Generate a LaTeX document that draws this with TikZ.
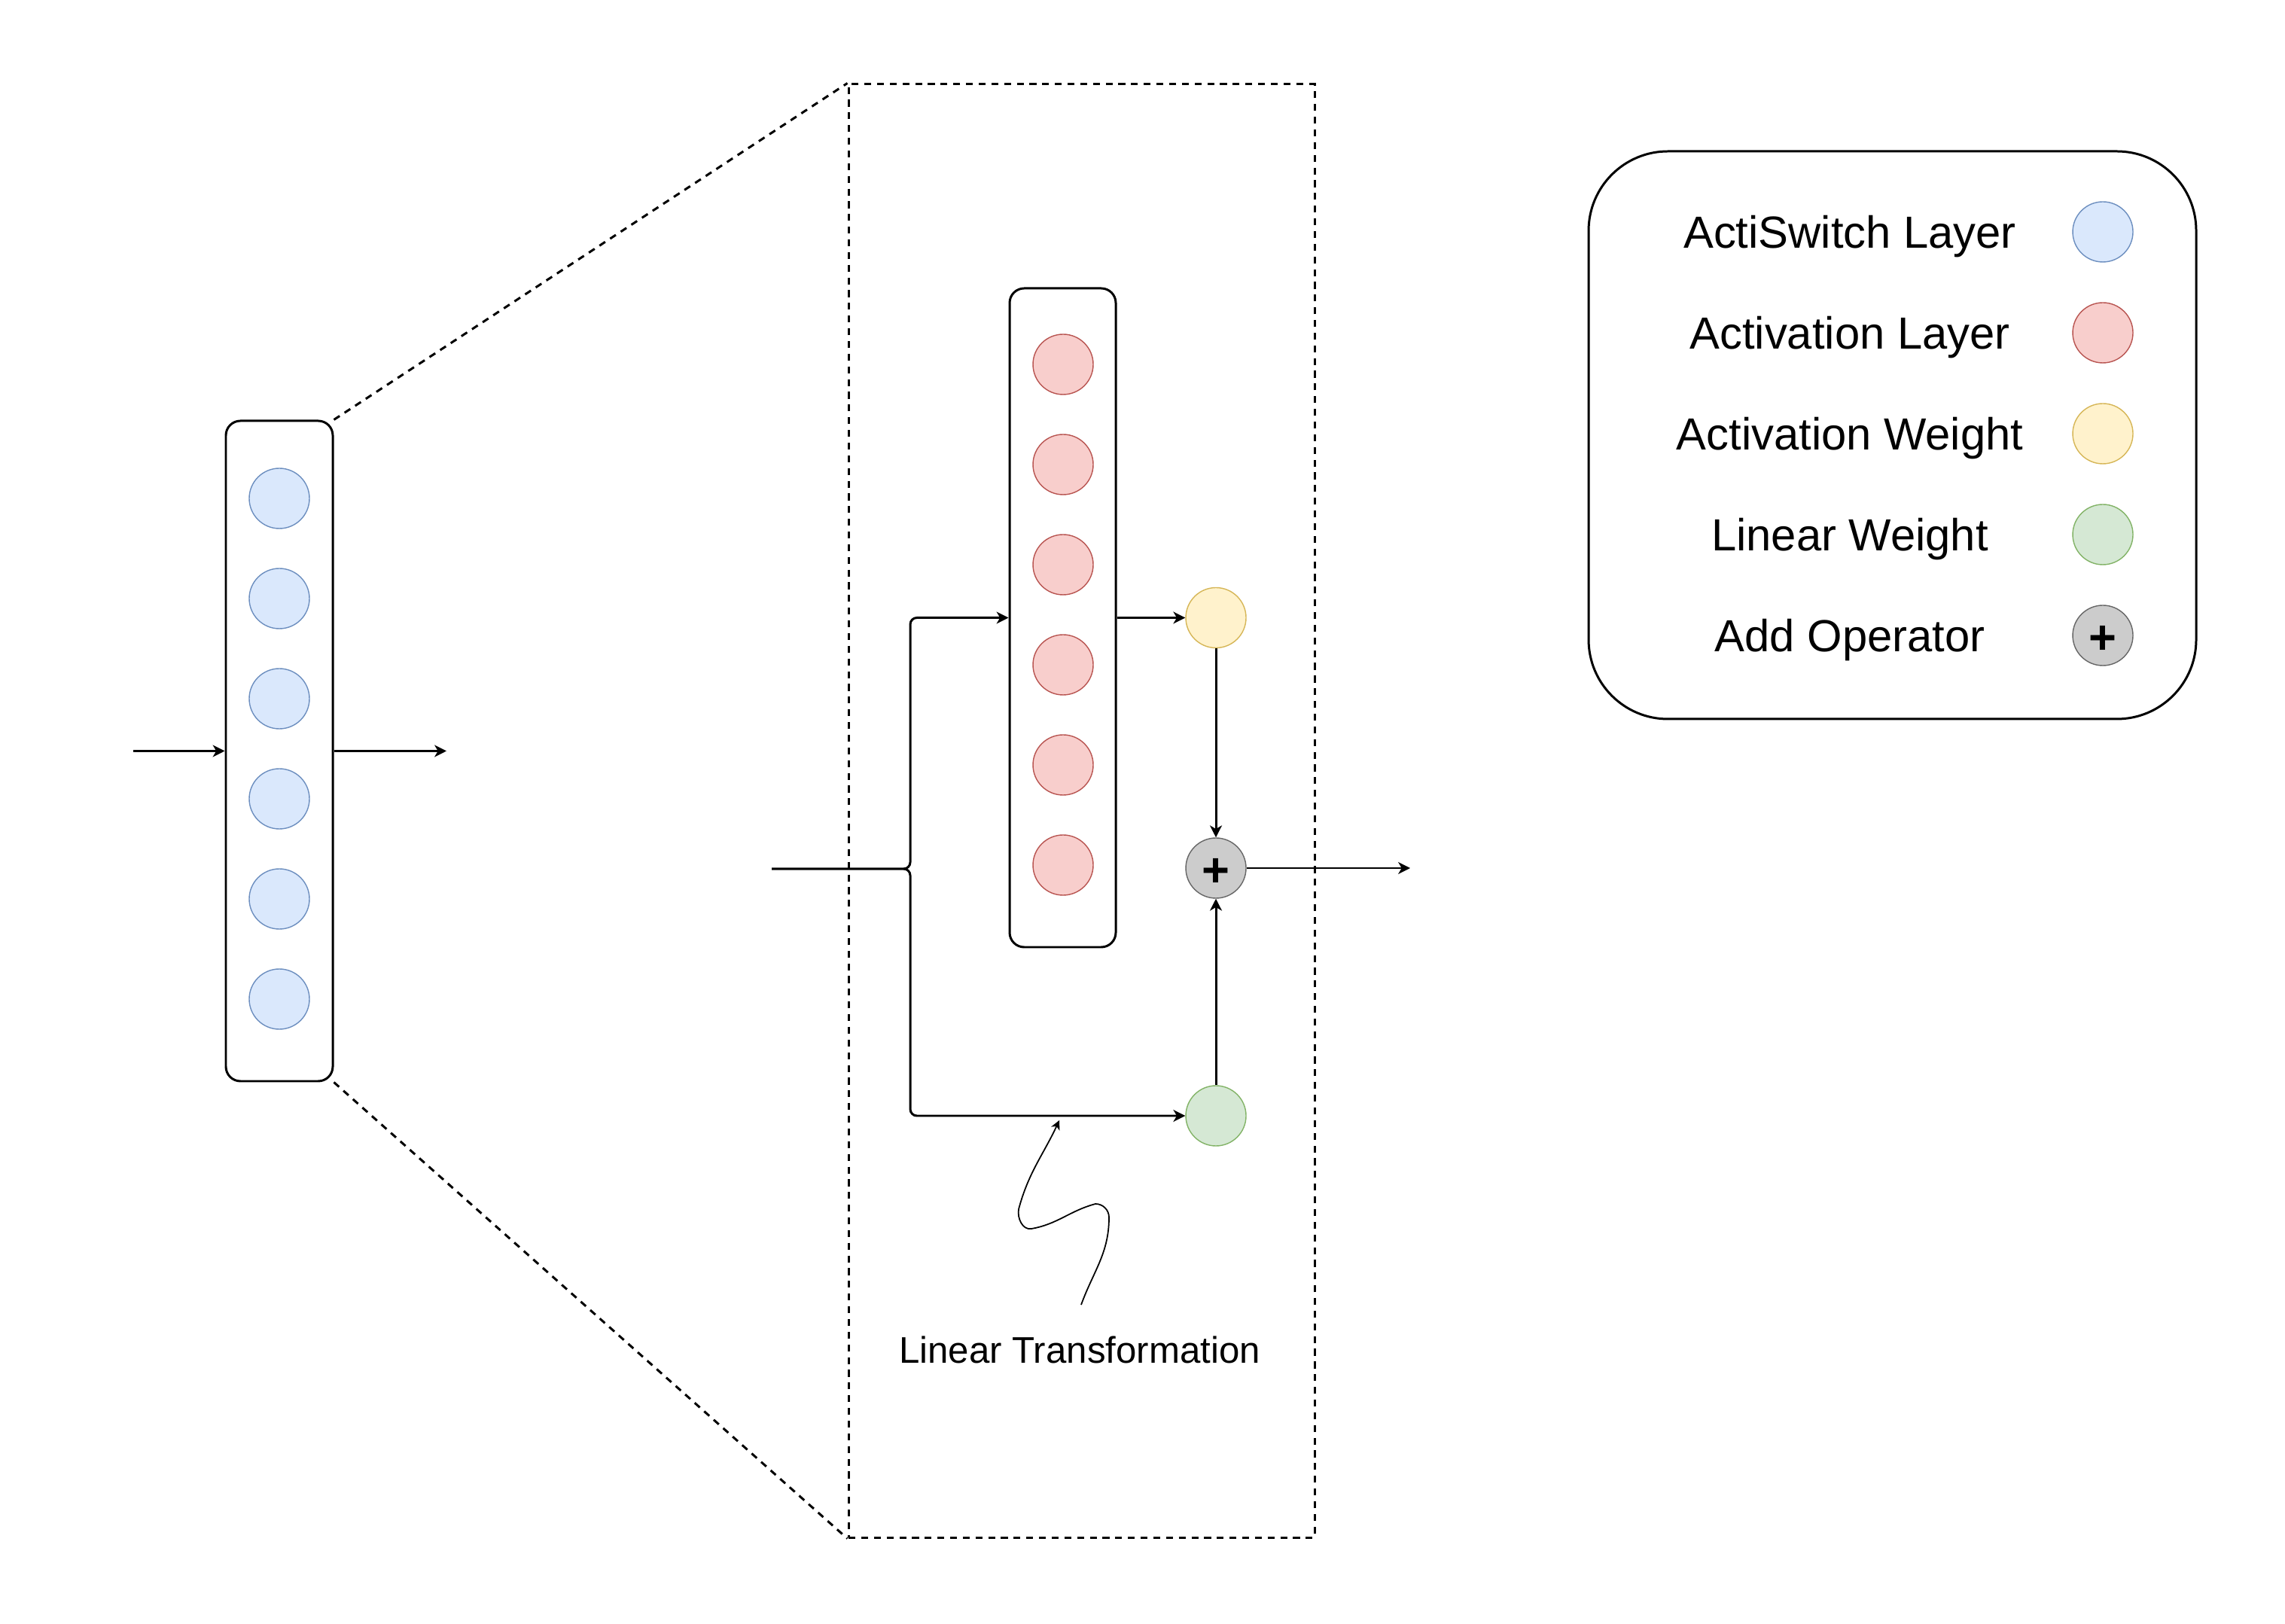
\documentclass[tikz,border=0pt]{standalone}
\usepackage{fontspec}
\setmainfont{Liberation Sans}
\usepackage{tikz}
\usetikzlibrary{arrows.meta, positioning, calc}
\usepackage{xcolor}
\definecolor{switchfill}{HTML}{DAE8FC}
\definecolor{switchdraw}{HTML}{6C8EBF}
\definecolor{actfill}{HTML}{F8CECC}
\definecolor{actdraw}{HTML}{B85450}
\definecolor{actwfill}{HTML}{FFF2CC}
\definecolor{actwdraw}{HTML}{D6B656}
\definecolor{linfill}{HTML}{D5E8D4}
\definecolor{lindraw}{HTML}{82B366}
\definecolor{addfill}{HTML}{CCCCCC}
\definecolor{adddraw}{HTML}{666666}

\begin{document}
\begin{tikzpicture}[
    layer/.style={rectangle, rounded corners=5.5pt, draw, line width=0.85pt,
                  minimum width=1.42cm, minimum height=8.77cm},
    unit/.style={circle, minimum size=0.8cm, inner sep=0pt, line width=0.4pt},
    flow/.style={line width=0.85pt, -{Stealth[length=4.5pt, width=4.5pt, inset=1.3pt]}},
    zoomline/.style={line width=0.85pt, dash pattern=on 2.6pt off 2.2pt},
    legendtext/.style={font=\fontsize{17}{20}\selectfont},
    plus/.style={font=\fontsize{18}{18}\selectfont\bfseries, text depth=0pt},
]
\fill[white] (0,0) rectangle (30.35,21.56);
\useasboundingbox (0,0) rectangle (30.35,21.56);

% ActiSwitch layer (overview)
\node[layer] (switch) at (3.71,11.585) {};
\foreach \i/\y in {1/14.94, 2/13.61, 3/12.28, 4/10.95, 5/9.62, 6/8.29}
    \node[unit, fill=switchfill, draw=switchdraw] (s\i) at (3.71,\y) {};
\coordinate (sin) at (1.77,11.585);
\coordinate (sout) at (5.93,11.585);
\draw[flow] (sin) -- (switch.west);
\draw[flow] (switch.east) -- (sout);

% Zoomed view
\node[draw, zoomline, minimum width=6.19cm, minimum height=19.30cm, inner sep=0pt] (zoom) at (14.365,10.79) {};
\draw[zoomline] (switch.north east) -- (zoom.north west);
\draw[zoomline] (switch.south east) -- (zoom.south west);

% Activation layer
\node[layer, minimum height=8.75cm, minimum width=1.41cm] (act) at (14.115,13.355) {};
\foreach \i/\y in {1/16.72, 2/15.39, 3/14.06, 4/12.73, 5/11.40, 6/10.07}
    \node[unit, fill=actfill, draw=actdraw] (a\i) at (14.12,\y) {};

% Weights and add operator
\node[unit, fill=actwfill, draw=actwdraw] (actw) at (16.15,13.355) {};
\node[unit, fill=addfill, draw=adddraw, plus] (add) at (16.15,10.03) {\raisebox{-3.4pt}{+}};
\node[unit, fill=linfill, draw=lindraw] (linw) at (16.15,6.74) {};

% Connections
\coordinate (in) at (10.25,10.02);
\coordinate (split) at (12.09,10.02);
\coordinate (out) at (18.73,10.03);
\draw[flow, rounded corners=2.5pt] (in) -- (split) |- (act.west);
\draw[flow, rounded corners=2.5pt] (in) -- (split) |- (linw.west);
\draw[flow] (act.east) -- (actw);
\draw[flow] (actw) -- (add);
\draw[flow] (linw) -- (add);
\draw[flow] (add) -- (out);

% Linear transformation label
\node[font=\fontsize{14}{17}\selectfont] (lt) at (14.34,3.63) {Linear Transformation};
\coordinate (tail) at (14.36,4.23);
\coordinate (tip) at (14.07,6.68);
\draw[line width=0.5pt, -{Stealth[length=3.5pt, width=3.5pt, inset=1pt]}]
    (tail) to[out=70,in=-90] (14.73,5.39) to[out=90,in=0] (14.55,5.57)
    to[out=195,in=10] (13.70,5.24) to[out=190,in=-100] (13.53,5.50)
    to[out=75,in=-115] (tip);

% Legend
\draw[line width=0.85pt, rounded corners=30pt] (21.10,12.01) rectangle (29.17,19.55);
\node[legendtext] (l1) at (24.57,18.42) {ActiSwitch Layer};
\node[legendtext] (l2) at (24.57,17.08) {Activation Layer};
\node[legendtext] (l3) at (24.57,15.74) {Activation Weight};
\node[legendtext] (l4) at (24.57,14.40) {Linear Weight};
\node[legendtext] (l5) at (24.57,13.06) {Add Operator};
\node[unit, fill=switchfill, draw=switchdraw] (k1) at (27.93,18.48) {};
\node[unit, fill=actfill, draw=actdraw] (k2) at (27.93,17.14) {};
\node[unit, fill=actwfill, draw=actwdraw] (k3) at (27.93,15.80) {};
\node[unit, fill=linfill, draw=lindraw] (k4) at (27.93,14.46) {};
\node[unit, fill=addfill, draw=adddraw, plus] (k5) at (27.93,13.12) {\raisebox{-3.4pt}{+}};

\end{tikzpicture}
\end{document}
